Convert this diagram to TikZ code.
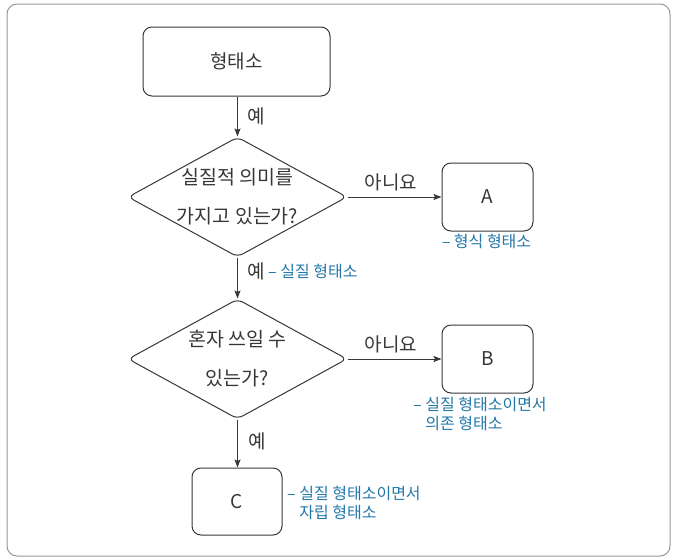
\documentclass[tikz,border=0pt]{standalone}
\usepackage{fontspec}
\setmainfont{Noto Sans CJK KR}
\usetikzlibrary{shapes.geometric,arrows.meta}
\definecolor{ln}{RGB}{55,55,55}
\definecolor{fr}{RGB}{150,150,150}
\definecolor{lb}{RGB}{35,120,170}
\begin{document}
\begin{tikzpicture}[x=1pt,y=-1pt,
  box/.style={draw=ln, line width=1pt, rounded corners=9pt, inner sep=0pt,
    font=\fontsize{19}{22}\selectfont, text=ln},
  dia/.style={draw=ln, line width=1pt, shape=diamond, rounded corners=6pt,
    minimum width=219pt, minimum height=120pt, inner sep=0pt},
  diatext/.style={align=center, font=\fontsize{19.5}{39}\selectfont, text=ln},
  arr/.style={draw=ln, line width=1pt, -{Stealth[length=8pt,width=6pt,inset=1.5pt]}},
  yes/.style={font=\fontsize{19}{22}\selectfont, text=ln},
  note/.style={font=\fontsize{16}{17}\selectfont, text=lb, inner sep=0pt}
]
\useasboundingbox (0,0) rectangle (673,558);
\draw[fr, line width=1pt, rounded corners=10pt] (7,4) rectangle (670,556);

\node[box, minimum width=187pt, minimum height=69pt] (top) at (236.5,61.5) {형태소};

\node[dia] (d1) at (237.5,197) {};
\node[diatext] (t1) at (237.5,197) {실질적 의미를\\가지고 있는가?};

\node[box, minimum width=91pt, minimum height=68pt] (A) at (487.5,197) {A};
\node[note] (nA) at (486.5,241) {– 형식 형태소};

\node[dia] (d2) at (237.5,359) {};
\node[diatext] (t2) at (237.5,359) {혼자 쓰일 수\\있는가?};

\node[box, minimum width=91pt, minimum height=68pt] (B) at (487.5,359) {B};
\node[note, anchor=north west, align=left] (nB) at (413,397)
  {–~\begin{tabular}[t]{@{}l@{}}실질 형태소이면서\\의존 형태소\end{tabular}};

\node[box, minimum width=90pt, minimum height=67pt] (C) at (237,501.5) {C};
\node[note, anchor=north west, align=left] (nC) at (287,486)
  {–~\begin{tabular}[t]{@{}l@{}}실질 형태소이면서\\자립 형태소\end{tabular}};

\draw[arr] (top.south -| d1.north) -- (d1.north);
\node[yes] (y1) at (256,116) {예};

\draw[arr] (d1.east) -- (A.west);
\node[yes] (n1) at (391,182) {아니요};

\draw[arr] (d1.south) -- (d2.north);
\node[yes] (y2) at (256,271) {예};
\node[note, anchor=west] (nd) at (268,271) {– 실질 형태소};

\draw[arr] (d2.east) -- (B.west);
\node[yes] (n2) at (391,344) {아니요};

\draw[arr] (d2.south) -- (d2.south |- C.north);
\node[yes] (y3) at (257,441) {예};
\end{tikzpicture}
\end{document}
